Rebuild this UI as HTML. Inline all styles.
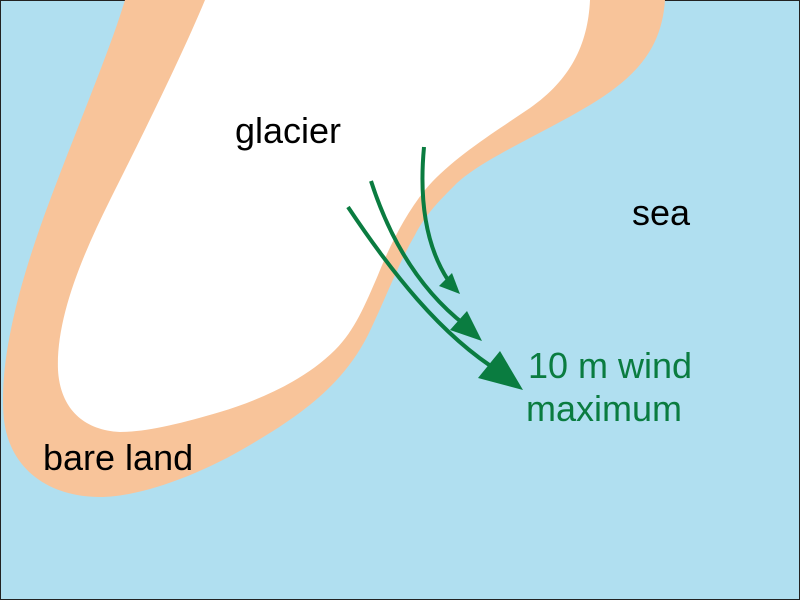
<!DOCTYPE html>
<html><head><style>
html,body{margin:0;padding:0;background:#b0dff0}
svg{display:block}
text{font-family:"Liberation Sans",sans-serif;font-size:36px}
</style></head><body>
<svg width="800" height="600" viewBox="0 0 800 600">
<rect x="0" y="0" width="800" height="600" fill="#b0dff0" stroke="#222" stroke-width="2"/>
<path d="M125,0 L665,0 C662,45 640,75 590,105 C540,135 480,160 455,185 C440,200 425,215 415,235 C400,260 385,300 368,335 C345,380 310,410 250,445 C200,475 140,497 100,497 C50,497 10,470 4,420 C-2,360 20,280 50,200 C80,120 110,50 125,0 Z" fill="#f8c49a"/>
<path d="M205,0 L590,0 C588,45 570,80 530,108 C490,135 450,160 425,190 C405,215 390,245 378,275 C365,305 355,330 335,350 C305,380 260,400 220,412 C180,424 145,432 120,432 C80,430 60,405 58,370 C56,320 80,260 110,200 C140,140 180,60 205,0 Z" fill="#ffffff"/>
<g stroke="#0a7c40" fill="none" stroke-width="4">
<path d="M424,147 C420,190 422,240 448,280"/>
<path d="M371,181 C390,240 420,290 465,325"/>
<path d="M348,207 C390,270 440,335 500,372"/>
</g>
<g fill="#0a7c40">
<polygon points="460,294 439,286 452,273"/>
<polygon points="482,341 450,330 467,311"/>
<polygon points="523,390 478,378 500,351"/>
</g>
<text x="235" y="143" fill="#000">glacier</text>
<text x="632" y="225" fill="#000">sea</text>
<text x="43" y="470" fill="#000">bare land</text>
<text x="528" y="378" fill="#0a7c40">10 m wind</text>
<text x="526" y="421" fill="#0a7c40">maximum</text>
</svg>
</body></html>
